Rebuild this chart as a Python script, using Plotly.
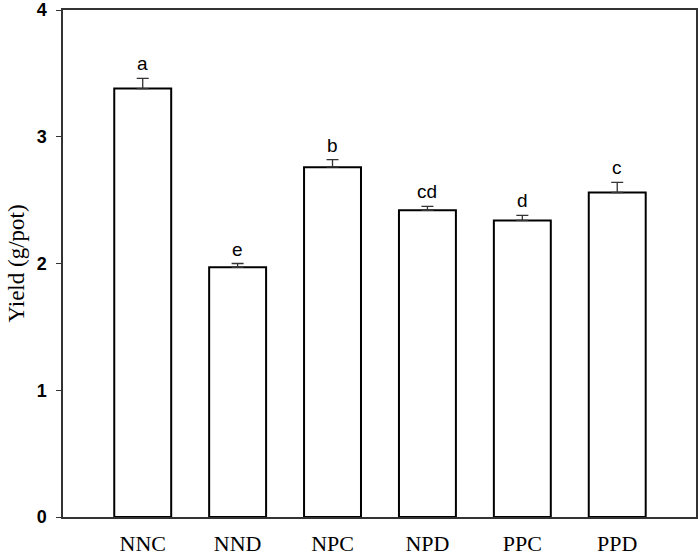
import plotly.graph_objects as go

# treatments and yield means
treatments = ["NNC", "NND", "NPC", "NPD", "PPC", "PPD"]
yield_mean = [3.38, 1.97, 2.76, 2.42, 2.34, 2.56]
yield_se = [0.08, 0.03, 0.06, 0.03, 0.04, 0.08]
letters = ["a", "e", "b", "cd", "d", "c"]
y_ticks = [0, 1, 2, 3, 4]

fig = go.Figure()
fig.add_trace(go.Bar(
    x=treatments, y=yield_mean, width=0.6,
    marker=dict(color="white", line=dict(color="black", width=2)),
    error_y=dict(type="data", symmetric=False, array=yield_se,
                 arrayminus=[0] * len(yield_se),
                 color="#333333", thickness=1.3, width=6),
    showlegend=False,
))

# significance letters sitting on top of each error bar
for t, m, e, l in zip(treatments, yield_mean, yield_se, letters):
    fig.add_annotation(x=t, y=m + e, text=l, showarrow=False,
                       yanchor="bottom", yshift=2,
                       font=dict(family="Liberation Sans, Arial", size=19, color="black"))

fig.update_layout(
    width=698, height=555,
    margin=dict(l=63, r=2, t=10, b=38),
    plot_bgcolor="white", paper_bgcolor="white",
    xaxis=dict(range=[-0.84, 5.83], showline=True, mirror=True, automargin=False,
               linecolor="#333333", linewidth=1.5, ticks="",
               showgrid=False, ticklabelstandoff=6,
               tickfont=dict(family="Liberation Serif, Times New Roman", size=22, color="black")),
    yaxis=dict(range=[0, 4], tickvals=y_ticks, showline=True, mirror=True, automargin=False,
               linecolor="#333333", linewidth=1.5, ticks="outside",
               ticklen=5, tickcolor="#333333", showgrid=False, zeroline=False,
               ticklabelstandoff=6,
               tickfont=dict(family="Liberation Sans, Arial", size=18, color="black", weight="bold"),
               title=dict(text="Yield (g/pot)", standoff=6,
                          font=dict(family="Liberation Serif, Times New Roman", size=23, color="black"))),
)

# the page has a default 8px body margin; drop it so the figure sits at (0, 0)
fig.write_html("out.html", config={"displayModeBar": False},
               post_script="document.body.style.margin='0';")
